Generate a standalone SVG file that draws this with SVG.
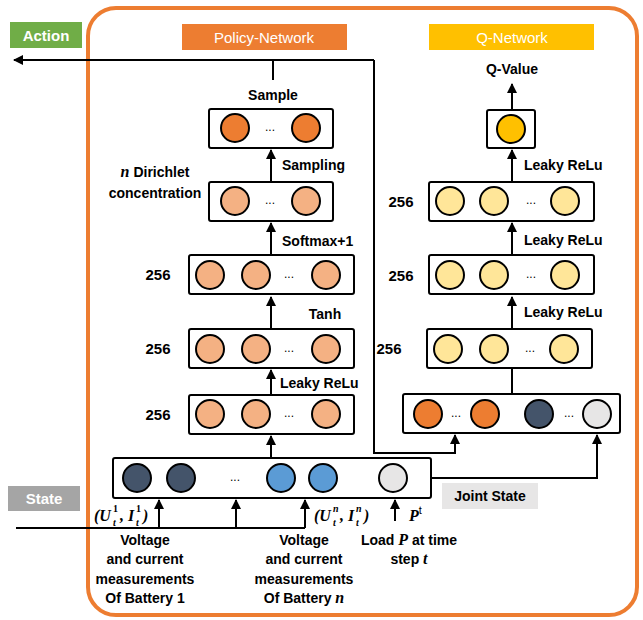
<svg xmlns="http://www.w3.org/2000/svg" width="643" height="620" viewBox="0 0 643 620">
<defs>
<marker id="ah" viewBox="0 0 10 10" refX="9" refY="5" markerWidth="5" markerHeight="5" orient="auto" markerUnits="strokeWidth">
<path d="M0,0 L10,5 L0,10 z" fill="#000"/>
</marker>
<style>
.box{fill:#fff;stroke:#000;stroke-width:2}
.c{stroke:#000;stroke-width:2}
.lo{fill:#F4B183}.do{fill:#ED7D31}.ly{fill:#FFE699}.yy{fill:#FFC000}.sl{fill:#44546A}.bl{fill:#5B9BD5}.gr{fill:#E7E6E6}
.ln{fill:none;stroke:#000;stroke-width:2}
.t{font-family:"Liberation Sans",Arial,sans-serif;font-weight:bold;font-size:14px;fill:#000}
.tn{font-family:"Liberation Sans",Arial,sans-serif;font-weight:bold;font-size:15px;fill:#000;text-anchor:middle}
.dots{font-family:"Liberation Sans",Arial,sans-serif;font-size:12px;fill:#000;text-anchor:middle}
.m{font-family:"Liberation Serif","Times New Roman",serif;font-weight:bold;font-style:italic;font-size:16px;fill:#000}
.ms{font-family:"Liberation Serif","Times New Roman",serif;font-weight:bold;font-style:italic;font-size:10px;fill:#000}
.md{font-family:"Liberation Serif","Times New Roman",serif;font-weight:bold;font-size:10px;fill:#000}
.hdr{font-family:"Liberation Sans",Arial,sans-serif;font-size:15px;fill:#fff;text-anchor:middle}
</style>
</defs>
<rect x="88" y="8" width="549" height="607" rx="28" fill="#fff" stroke="#ED7D31" stroke-width="4"/>

<g id="labels">
<g id="action-label"><rect x="10" y="22" width="72" height="26" fill="#70AD47"/><text x="46" y="41" class="hdr" font-weight="bold">Action</text></g>
<g id="policy-label"><rect x="182" y="24" width="165" height="26" fill="#ED7D31"/><text x="264" y="43" class="hdr">Policy-Network</text></g>
<g id="q-label"><rect x="429" y="24" width="165" height="26" fill="#FFC000"/><text x="512" y="43" class="hdr">Q-Network</text></g>
<g id="state-label"><rect x="8" y="486" width="72" height="25" fill="#A5A5A5"/><text x="44" y="504" class="hdr" font-weight="bold">State</text></g>
<g id="joint-label"><rect x="442" y="483" width="96" height="26" fill="#E7E6E6"/><text x="490" y="501" class="t" text-anchor="middle">Joint State</text></g>
</g>

<g id="connectors">
<path class="ln" d="M374,60 L14,60" marker-end="url(#ah)"/>
<path class="ln" d="M273,60 L273,80"/>
<path class="ln" d="M374,60 L374,453 L455,453 L455,435" marker-end="url(#ah)"/>
<path class="ln" d="M271,182 L271,150" marker-end="url(#ah)"/>
<path class="ln" d="M271,255 L271,223" marker-end="url(#ah)"/>
<path class="ln" d="M271,329 L271,297" marker-end="url(#ah)"/>
<path class="ln" d="M271,395 L271,370" marker-end="url(#ah)"/>
<path class="ln" d="M271,458 L271,436" marker-end="url(#ah)"/>
<path class="ln" d="M16,528 L305,528"/>
<path class="ln" d="M159,528 L159,500" marker-end="url(#ah)"/>
<path class="ln" d="M236,528 L236,500" marker-end="url(#ah)"/>
<path class="ln" d="M305,528 L305,500" marker-end="url(#ah)"/>
<path class="ln" d="M395,521 L395,500" marker-end="url(#ah)"/>
<path class="ln" d="M431,478 L597,478 L597,435" marker-end="url(#ah)"/>
<path class="ln" d="M512,394 L512,368"/>
<path class="ln" d="M512,329 L512,297" marker-end="url(#ah)"/>
<path class="ln" d="M512,255 L512,223" marker-end="url(#ah)"/>
<path class="ln" d="M512,182 L512,150" marker-end="url(#ah)"/>
<path class="ln" d="M512,110 L512,84" marker-end="url(#ah)"/>
</g>

<g id="p-sample">
<rect class="box" x="209" y="109" width="124" height="39" rx="2"/>
<circle class="c do" cx="235" cy="128" r="14"/><circle class="c do" cx="306" cy="128" r="14"/>
<text class="dots" x="270" y="131">...</text>
</g>
<g id="p-dirichlet">
<rect class="box" x="209" y="182" width="124" height="39" rx="2"/>
<circle class="c lo" cx="235" cy="201" r="14"/><circle class="c lo" cx="306" cy="201" r="14"/>
<text class="dots" x="270" y="204">...</text>
</g>
<g id="p-h3">
<rect class="box" x="189" y="255" width="165" height="39" rx="2"/>
<circle class="c lo" cx="210" cy="275" r="14"/><circle class="c lo" cx="256" cy="275" r="14"/><circle class="c lo" cx="326" cy="275" r="14"/>
<text class="dots" x="289" y="278">...</text>
</g>
<g id="p-h2">
<rect class="box" x="189" y="329" width="165" height="39" rx="2"/>
<circle class="c lo" cx="210" cy="349" r="14"/><circle class="c lo" cx="256" cy="349" r="14"/><circle class="c lo" cx="326" cy="349" r="14"/>
<text class="dots" x="289" y="352">...</text>
</g>
<g id="p-h1">
<rect class="box" x="189" y="395" width="165" height="39" rx="2"/>
<circle class="c lo" cx="210" cy="414" r="14"/><circle class="c lo" cx="256" cy="414" r="14"/><circle class="c lo" cx="326" cy="414" r="14"/>
<text class="dots" x="289" y="417">...</text>
</g>
<g id="state">
<rect class="box" x="113" y="458" width="318" height="40" rx="2"/>
<circle class="c sl" cx="137" cy="478" r="14"/><circle class="c sl" cx="181" cy="478" r="14"/>
<circle class="c bl" cx="281" cy="478" r="14"/><circle class="c bl" cx="323" cy="478" r="14"/>
<circle class="c gr" cx="393" cy="478" r="14"/>
<text class="dots" x="235" y="481">...</text>
</g>
<g id="q-in">
<rect class="box" x="403" y="394" width="217" height="39" rx="2"/>
<circle class="c do" cx="428" cy="414" r="14"/><circle class="c do" cx="485" cy="414" r="14"/>
<circle class="c sl" cx="539" cy="414" r="14"/><circle class="c gr" cx="597" cy="414" r="14"/>
<text class="dots" x="456" y="417">...</text><text class="dots" x="569" y="417">...</text>
</g>
<g id="q-h1">
<rect class="box" x="427" y="329" width="165" height="39" rx="2"/>
<circle class="c ly" cx="448" cy="349" r="14"/><circle class="c ly" cx="494" cy="349" r="14"/><circle class="c ly" cx="564" cy="349" r="14"/>
<text class="dots" x="530" y="352">...</text>
</g>
<g id="q-h2">
<rect class="box" x="429" y="255" width="165" height="39" rx="2"/>
<circle class="c ly" cx="450" cy="275" r="14"/><circle class="c ly" cx="494" cy="275" r="14"/><circle class="c ly" cx="565" cy="275" r="14"/>
<text class="dots" x="531" y="278">...</text>
</g>
<g id="q-h3">
<rect class="box" x="429" y="182" width="165" height="39" rx="2"/>
<circle class="c ly" cx="450" cy="201" r="14"/><circle class="c ly" cx="494" cy="201" r="14"/><circle class="c ly" cx="565" cy="201" r="14"/>
<text class="dots" x="531" y="204">...</text>
</g>
<g id="q-out">
<rect class="box" x="487" y="110" width="48" height="38" rx="2"/>
<circle class="c yy" cx="511" cy="129" r="14"/>
</g>

<g id="texts">
<text class="t" x="273" y="100" text-anchor="middle">Sample</text>
<text class="t" x="282" y="170">Sampling</text>
<text class="t" x="155" y="177" text-anchor="middle"><tspan class="m" font-size="17">n</tspan> Dirichlet</text>
<text class="t" x="155" y="198" text-anchor="middle">concentration</text>
<text class="t" x="282" y="246">Softmax+1</text>
<text class="t" x="325" y="319" text-anchor="middle">Tanh</text>
<text class="t" x="280" y="388">Leaky ReLu</text>
<text class="tn" x="158" y="280">256</text>
<text class="tn" x="158" y="354">256</text>
<text class="tn" x="158" y="420">256</text>
<text class="t" x="512" y="74" text-anchor="middle">Q-Value</text>
<text class="t" x="524" y="170">Leaky ReLu</text>
<text class="t" x="524" y="245">Leaky ReLu</text>
<text class="t" x="524" y="317">Leaky ReLu</text>
<text class="tn" x="401" y="207">256</text>
<text class="tn" x="401" y="281">256</text>
<text class="tn" x="389" y="354">256</text>

<text class="m" x="94" y="521">(U</text>
<text class="md" x="113" y="512">1</text>
<text class="ms" x="113" y="526">t</text>
<text class="m" x="120" y="521">, I</text>
<text class="md" x="136" y="512">1</text>
<text class="ms" x="136" y="526">t</text>
<text class="m" x="143" y="521">)</text>

<text class="m" x="314" y="521">(U</text>
<text class="ms" x="333" y="512">n</text>
<text class="ms" x="333" y="526">t</text>
<text class="m" x="340" y="521">, I</text>
<text class="ms" x="356" y="512">n</text>
<text class="ms" x="356" y="526">t</text>
<text class="m" x="364" y="521">)</text>

<text class="m" x="409" y="521">P<tspan font-family="Liberation Sans,Arial,sans-serif" font-style="normal" font-weight="normal" font-size="11" dy="-7">t</tspan></text>
<text class="t" x="145" y="545" text-anchor="middle">Voltage</text>
<text class="t" x="145" y="564" text-anchor="middle">and current</text>
<text class="t" x="145" y="584" text-anchor="middle">measurements</text>
<text class="t" x="145" y="603" text-anchor="middle">Of Battery 1</text>
<text class="t" x="304" y="545" text-anchor="middle">Voltage</text>
<text class="t" x="304" y="564" text-anchor="middle">and current</text>
<text class="t" x="304" y="584" text-anchor="middle">measurements</text>
<text class="t" x="304" y="603" text-anchor="middle">Of Battery <tspan class="m">n</tspan></text>
<text class="t" x="409" y="545" text-anchor="middle">Load <tspan class="m">P</tspan> at time</text>
<text class="t" x="409" y="564" text-anchor="middle">step <tspan class="m">t</tspan></text>
</g>
</svg>
